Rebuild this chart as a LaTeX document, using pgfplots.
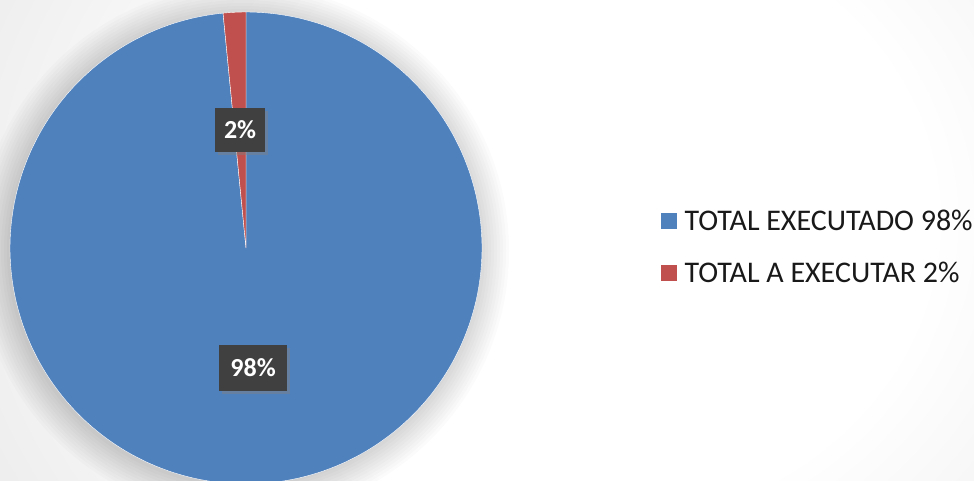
\documentclass[border=0pt]{standalone}
\usepackage{fontspec}
\setmainfont{Carlito}
\usepackage{pgfplots}
\usepackage{pgfplotstable}
\pgfplotsset{compat=1.18}
\usetikzlibrary{shadows}
\definecolor{pieblue}{HTML}{4F81BD}
\definecolor{piered}{HTML}{C0504D}
\definecolor{boxgray}{HTML}{404040}
\pgfdeclareradialshading{bgshade}{\pgfpoint{0bp}{0bp}}{color(0bp)=(white); color(8bp)=(white); color(25bp)=(black!17); color(50bp)=(black!17)}
\pgfplotstableread{
label value
exec 98.45
rest 1.55
}\piedata
\pgfplotstablegetelem{0}{value}\of\piedata \let\vExec\pgfplotsretval
\pgfplotstablegetelem{1}{value}\of\piedata \let\vRest\pgfplotsretval
\pgfmathsetmacro{\aSplit}{90+3.6*\vRest}
\pgfmathsetmacro{\aEnd}{\aSplit+3.6*\vExec}
\begin{document}
\begin{tikzpicture}
\useasboundingbox (0,0) rectangle (974pt,480pt);
\begin{scope}
\clip (0,0) rectangle (974pt,480pt);
\shade[shading=bgshade] (580pt-1100pt,260pt-950pt) rectangle (580pt+1100pt,260pt+950pt);
% soft halo shadow of the pie
\foreach \r in {0,3,6,9,12,15,18,21,24,27,30}{
  \fill[black,opacity=0.016] (243pt,229pt) circle ({236pt+\r pt});
}
\begin{axis}[
  hide axis, scale only axis, clip=false,
  width=472pt, height=472pt,
  xmin=-1, xmax=1, ymin=-1, ymax=1,
  at={(10pt,-4pt)}, anchor=south west,
  legend cell align=left,
  legend style={draw=none, fill=none, inner sep=0pt,
    at={(1.377,0.502)}, anchor=west,
    font=\fontsize{30}{30}\selectfont, text=black!90,
    row sep=26pt,
    nodes={inner sep=2pt},
    /tikz/every odd column/.append style={column sep=5pt}},
  legend image code/.code={\fill[#1] (0pt,-8.5pt) rectangle (17pt,8.5pt);},
]
\addplot[fill=pieblue, draw=white, line width=0.4pt, domain=\aSplit:\aEnd, samples=300]
  ({cos(x)},{sin(x)}) -- (axis cs:0,0) -- cycle;
\addlegendentry{TOTAL EXECUTADO 98\%}
\addplot[fill=piered, draw=white, line width=0.4pt, domain=90:\aSplit, samples=20]
  ({cos(x)},{sin(x)}) -- (axis cs:0,0) -- cycle;
\addlegendentry{TOTAL A EXECUTAR 2\%}
\node[fill=boxgray, text=white, font=\bfseries\fontsize{26}{26}\selectfont,
      inner xsep=9pt, minimum height=44pt,
      drop shadow={opacity=0.45, shadow xshift=3pt, shadow yshift=-3pt}]
  at (axis cs:-0.025,0.5) {2\%};
\node[fill=boxgray, text=white, font=\bfseries\fontsize{26}{26}\selectfont,
      inner xsep=11pt, minimum height=46pt,
      drop shadow={opacity=0.45, shadow xshift=3pt, shadow yshift=-3pt}]
  at (axis cs:0.03,-0.508) {98\%};
\end{axis}
\end{scope}
\end{tikzpicture}
\end{document}
